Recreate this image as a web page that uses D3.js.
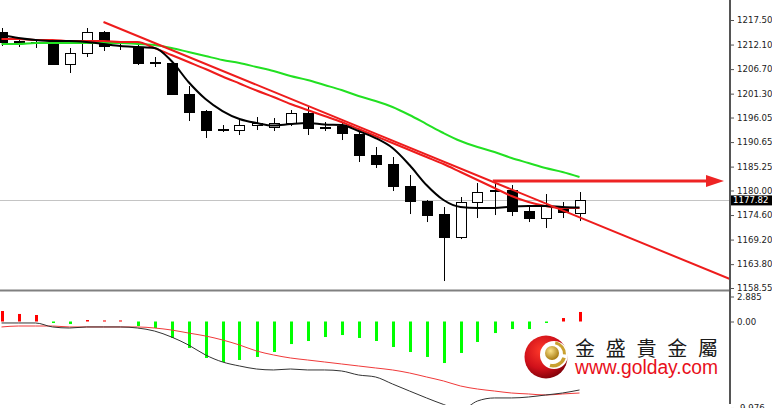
<!DOCTYPE html>
<html><head><meta charset="utf-8">
<script src="https://cdn.jsdelivr.net/npm/d3@7"></script>
<style>html,body{margin:0;padding:0;background:#fff;overflow:hidden}</style>
</head><body><svg id="c" width="772" height="408"></svg>
<script>
// ---- price candles ----
const opens  = [1214.86,1212.88,1212.66,1212.66,1207.82,1210.24,1214.86,1211.90,1211.56,1208.26,1208.04,1201.22,1197.48,1193.52,1193.30,1194.40,1193.96,1194.84,1197.04,1194.07,1194.18,1192.42,1187.80,1185.82,1180.98,1177.68,1174.82,1169.76,1177.46,1179.88,1180.10,1175.48,1173.94,1176.14,1175.04];
const highs  = [1215.74,1213.32,1213.10,1212.88,1211.34,1215.74,1215.08,1212.66,1212.44,1209.36,1208.26,1202.98,1197.70,1194.40,1195.72,1196.16,1195.94,1197.70,1198.58,1195.06,1194.84,1192.86,1189.56,1187.36,1183.40,1177.90,1176.36,1178.56,1181.64,1181.86,1181.20,1176.58,1179.22,1177.46,1179.66];
const lows   = [1211.78,1211.56,1211.34,1207.60,1205.84,1209.36,1210.68,1210.90,1207.60,1207.16,1201.00,1195.28,1191.54,1192.86,1192.20,1193.30,1193.08,1194.18,1192.20,1193.08,1191.10,1186.26,1184.94,1179.88,1174.82,1173.06,1160.08,1169.32,1173.94,1174.60,1174.38,1173.06,1171.74,1173.94,1173.28];
const closes = [1212.66,1212.44,1212.55,1207.82,1210.24,1214.86,1211.78,1211.80,1208.04,1208.15,1201.22,1197.26,1193.30,1193.41,1194.40,1194.84,1194.84,1197.04,1193.74,1193.96,1192.64,1187.80,1185.82,1180.98,1177.68,1174.60,1169.76,1177.46,1179.66,1180.10,1175.48,1173.94,1176.80,1175.26,1177.82];
// ---- moving averages ----
const maFast = [1214.20,1213.54,1213.10,1212.88,1212.88,1212.66,1212.22,1211.78,1211.56,1211.34,1208.48,1203.86,1200.12,1197.48,1195.72,1194.84,1194.29,1194.62,1194.84,1194.51,1194.40,1193.08,1191.54,1189.34,1185.60,1181.20,1177.90,1176.36,1176.14,1176.14,1176.47,1176.58,1176.58,1176.36,1176.25];
const maMid  = [1213.32,1213.32,1213.10,1213.10,1212.88,1212.88,1212.88,1212.66,1212.66,1211.34,1209.80,1208.26,1206.72,1205.07,1203.53,1201.99,1200.56,1199.02,1197.70,1196.38,1195.06,1193.52,1191.98,1190.44,1188.90,1187.36,1185.82,1184.06,1182.30,1180.54,1178.78,1177.46,1176.58,1176.14,1176.14];
const maSlow = [1212.22,1212.22,1212.44,1212.44,1212.44,1212.44,1212.44,1212.44,1212.22,1212.00,1211.34,1210.46,1209.58,1208.70,1208.04,1207.16,1206.28,1205.18,1204.30,1203.20,1202.10,1200.78,1199.68,1198.36,1196.60,1194.62,1192.64,1190.88,1189.56,1188.46,1187.14,1186.04,1184.94,1184.06,1182.96];
// ---- annotations ----
const trendIdx = [6, 42.85];
const trendPrice = [1217.06, 1160.52];
const arrowIdx = [28.9, 42.5];
const arrowPrice = 1182.08;
const lastPrice = 1177.82;
const priceTicks = [1217.50,1212.10,1206.70,1201.30,1196.05,1190.65,1185.25,1180.00,1174.60,1169.20,1163.80,1158.55];
// ---- MACD ----
const macdHist   = [1.21,0.87,0.75,-0.17,-0.29,0.17,0.12,0.12,-0.52,-0.75,-1.90,-3.06,-4.21,-4.67,-4.44,-4.09,-3.52,-2.60,-2.25,-1.79,-1.56,-1.90,-2.25,-2.94,-3.52,-4.09,-4.79,-3.63,-2.36,-1.33,-0.87,-0.87,-0.17,0.40,1.10];
const macdMain   = [-0.17,-0.17,-0.17,-0.63,-0.75,-0.63,-0.63,-0.63,-0.75,-1.10,-1.79,-2.71,-3.86,-4.67,-5.13,-5.48,-5.59,-5.48,-5.59,-5.59,-5.71,-6.17,-6.40,-7.21,-8.02,-8.82,-9.57,-10.21,-9.17,-8.82,-8.82,-8.71,-8.48,-8.25,-7.90];
const macdSignal = [-0.63,-0.52,-0.52,-0.52,-0.63,-0.63,-0.63,-0.63,-0.63,-0.75,-0.98,-1.33,-1.67,-2.13,-2.71,-3.40,-3.86,-4.21,-4.44,-4.67,-4.90,-5.13,-5.36,-5.59,-5.94,-6.40,-6.86,-7.44,-7.79,-8.02,-8.25,-8.36,-8.48,-8.36,-8.25];
const macdTicks = [2.885, 0.00, -9.976];
const macdTickLabels = ["2.885", "0.00", "-9.976"];
const brandCN = "金盛貴金屬";
const brandURL = "www.golday.com";

const svg = d3.select("#c");
const n = closes.length;
const x = d3.scaleLinear().domain([0, n - 1]).range([1.5, 579.5]);
const yP = d3.scaleLinear().domain([1158.55, 1217.50]).range([288, 20]);
const yM = d3.scaleLinear().domain([-9.46, 2.885]).range([403.5, 296.5]);
const AX = 730;

const defs = svg.append("defs");
defs.append("clipPath").attr("id","cpMain").append("rect").attr("x",0).attr("y",0).attr("width",AX-1).attr("height",289);
defs.append("clipPath").attr("id","cpMacd").append("rect").attr("x",0).attr("y",292).attr("width",AX-1).attr("height",113);

// current price line
svg.append("line").attr("x1",0).attr("x2",AX).attr("y1",Math.round(yP(lastPrice))+0.5).attr("y2",Math.round(yP(lastPrice))+0.5)
  .attr("stroke","#c4c4c4").attr("stroke-width",1);

const gMain = svg.append("g").attr("clip-path","url(#cpMain)");

// candles
const idx = d3.range(n);
const cg = gMain.append("g");
idx.forEach(i => {
  const cx = Math.round(x(i)) + 0.5;
  cg.append("line").attr("x1",cx).attr("x2",cx).attr("y1",yP(highs[i])).attr("y2",yP(lows[i]))
    .attr("stroke","#000").attr("stroke-width",1);
  const top = yP(Math.max(opens[i],closes[i])), bot = yP(Math.min(opens[i],closes[i]));
  const bull = closes[i] > opens[i];
  const h = Math.max(bot - top, 0.01);
  cg.append("rect").attr("x",cx-5).attr("y",Math.round(top)+0.5).attr("width",10).attr("height",Math.max(Math.round(h),0))
    .attr("fill", bull ? "#fff" : "#000").attr("stroke","#000").attr("stroke-width",1);
});

const lineGen = arr => d3.line().x((d,i)=>x(i)).y(d=>yP(d)).curve(d3.curveMonotoneX)(arr);
gMain.append("path").attr("d",lineGen(maSlow)).attr("fill","none").attr("stroke","#22e022").attr("stroke-width",2);
gMain.append("path").attr("d",lineGen(maMid)).attr("fill","none").attr("stroke","#ee1c1c").attr("stroke-width",2);
gMain.append("path").attr("d",lineGen(maFast)).attr("fill","none").attr("stroke","#000").attr("stroke-width",2);

// trendline
gMain.append("line").attr("x1",x(trendIdx[0])).attr("y1",yP(trendPrice[0])).attr("x2",x(trendIdx[1])).attr("y2",yP(trendPrice[1]))
  .attr("stroke","#ee1c1c").attr("stroke-width",2);

// arrow
const ay = yP(arrowPrice), ax0 = x(arrowIdx[0]), ax1 = x(arrowIdx[1]);
svg.append("line").attr("x1",ax0).attr("x2",ax1-16).attr("y1",ay).attr("y2",ay).attr("stroke","#ee2424").attr("stroke-width",3);
svg.append("path").attr("d",`M${ax1-18},${ay-6}L${ax1},${ay}L${ax1-18},${ay+6}Z`).attr("fill","#ee2424");

// separator
svg.append("line").attr("x1",0).attr("x2",AX).attr("y1",290.5).attr("y2",290.5).attr("stroke","#808080").attr("stroke-width",2);

// MACD panel
const gM = svg.append("g").attr("clip-path","url(#cpMacd)");
idx.forEach(i => {
  const v = macdHist[i];
  const y0 = yM(0), y1 = yM(v);
  gM.append("rect").attr("x",Math.round(x(i))-1).attr("width",3)
    .attr("y",Math.min(y0,y1)).attr("height",Math.max(Math.abs(y1-y0),1))
    .attr("fill", v >= 0 ? "#ff0000" : "#00ff00");
});
const mLine = arr => d3.line().x((d,i)=>x(i)).y(d=>yM(d)).curve(d3.curveMonotoneX)(arr);
gM.append("path").attr("d",mLine(macdSignal)).attr("fill","none").attr("stroke","#f03a3a").attr("stroke-width",1);
gM.append("path").attr("d",mLine(macdMain)).attr("fill","none").attr("stroke","#333").attr("stroke-width",1);

// axes
svg.append("line").attr("x1",AX).attr("x2",AX).attr("y1",0).attr("y2",404).attr("stroke","#555").attr("stroke-width",2);
const axP = d3.axisRight(yP).tickValues(priceTicks).tickSize(3).tickPadding(3).tickFormat(d3.format(".2f"));
const gAx = svg.append("g").attr("transform",`translate(${AX+1},0)`).call(axP);
const axM = d3.axisRight(yM).tickValues(macdTicks).tickSize(3).tickPadding(3).tickFormat((d,i)=>macdTickLabels[i]);
const gAxM = svg.append("g").attr("transform",`translate(${AX+1},0)`).call(axM);
[gAx,gAxM].forEach(g=>{
  g.select(".domain").remove();
  g.selectAll(".tick line").attr("stroke","#555");
  g.selectAll(".tick text").attr("font-family","DejaVu Sans").attr("font-size","8.6px").attr("fill","#222");
});

// last price box
const ly = yP(lastPrice);
svg.append("rect").attr("x",AX+1).attr("y",ly-5).attr("width",772-AX-1).attr("height",10).attr("fill","#000");
svg.append("text").attr("x",AX+3).attr("y",ly).attr("dy","0.34em").attr("font-family","DejaVu Sans").attr("font-size","8.6px")
  .attr("fill","#fff").text(d3.format(".2f")(lastPrice));

// logo
const lg = defs.append("radialGradient").attr("id","rg").attr("cx","40%").attr("cy","35%").attr("r","70%");
lg.append("stop").attr("offset","0%").attr("stop-color","#ff3a2a");
lg.append("stop").attr("offset","60%").attr("stop-color","#d0101a");
lg.append("stop").attr("offset","100%").attr("stop-color","#7a0008");
const gg = defs.append("radialGradient").attr("id","gg").attr("cx","40%").attr("cy","35%").attr("r","65%");
gg.append("stop").attr("offset","0%").attr("stop-color","#fbe38a");
gg.append("stop").attr("offset","100%").attr("stop-color","#a87b10");
const logo = svg.append("g").attr("transform","translate(546,357)");
logo.append("circle").attr("r",21.5).attr("fill","url(#rg)");
logo.append("circle").attr("cx",8).attr("cy",-2).attr("r",14).attr("fill","#fff");
logo.append("path").attr("d",d3.arc()({innerRadius:10,outerRadius:13,startAngle:0.2,endAngle:1.6})).attr("transform","translate(7,-3)").attr("fill","#c9a030");
logo.append("path").attr("d",d3.arc()({innerRadius:10,outerRadius:13.5,startAngle:1.9,endAngle:3.4})).attr("transform","translate(7,-3)").attr("fill","#c9a030");
logo.append("circle").attr("cx",6).attr("cy",-4).attr("r",7).attr("fill","url(#gg)");

svg.append("text").attr("x",575).attr("y",356).attr("font-family","Noto Sans CJK TC").attr("font-size","20px")
  .attr("fill","#1a1a1a").attr("textLength",143).attr("lengthAdjust","spacing").text(brandCN);
svg.append("text").attr("x",575).attr("y",374).attr("font-family","Liberation Sans").attr("font-size","20px")
  .attr("fill","#e8101a").attr("textLength",143).attr("lengthAdjust","spacingAndGlyphs").text(brandURL);
</script>
</body></html>
